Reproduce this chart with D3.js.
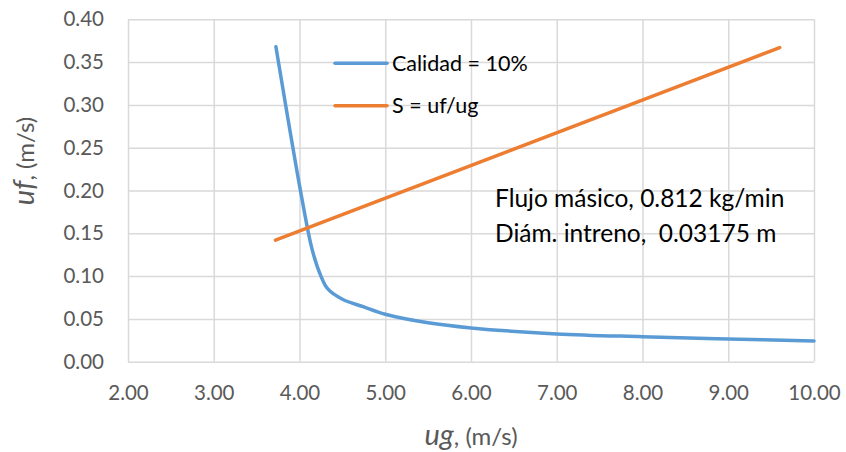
<!DOCTYPE html>
<html>
<head>
<meta charset="utf-8">
<script src="https://cdn.jsdelivr.net/npm/d3@7"></script>
<style>
  html, body { margin: 0; padding: 0; background: #fff; }
  svg { display: block; font-family: Lato, "Open Sans", sans-serif; }
</style>
</head>
<body>
<svg id="chart" width="846" height="452"></svg>
<script>
// ---- data ----
const calidadUg = [3.725, 4.02, 4.15, 4.25, 4.33, 4.50, 4.75, 5.00, 5.50, 6.00, 7.00, 8.00, 9.00, 10.00];
const calidadUf = [0.368, 0.195, 0.130, 0.100, 0.085, 0.0730, 0.0640, 0.0555, 0.0455, 0.0395, 0.0325, 0.0292, 0.0266, 0.0243];
const slipUg = [3.72, 9.60];
const slipUf = [0.142, 0.367];
const xTicks = [2, 3, 4, 5, 6, 7, 8, 9, 10];
const yTicks = [0, 0.05, 0.10, 0.15, 0.20, 0.25, 0.30, 0.35, 0.40];
const seriesNames = ["Calidad = 10%", "S = uf/ug"];
const noteLines = ["Flujo másico, 0.812 kg/min", "Diám. intreno,  0.03175 m"];

// ---- layout ----
const svg = d3.select("#chart");
const x = d3.scaleLinear().domain([2, 10]).range([128, 814]);
const y = d3.scaleLinear().domain([0, 0.40]).range([361.7, 19.3]);

const gridColor = "#d9d9d9";
const textGray = "#595959";

// gridlines
svg.append("g")
  .attr("transform", `translate(${x.range()[0]},0)`)
  .call(d3.axisLeft(y).tickValues(yTicks).tickSize(-(x.range()[1] - x.range()[0])).tickFormat(""))
  .call(g => g.select(".domain").remove())
  .call(g => g.selectAll("line").attr("stroke", gridColor).attr("stroke-width", 1.5));

svg.append("g")
  .attr("transform", `translate(0,${y.range()[0]})`)
  .call(d3.axisBottom(x).tickValues(xTicks).tickSize(-(y.range()[0] - y.range()[1])).tickFormat(""))
  .call(g => g.select(".domain").remove())
  .call(g => g.selectAll("line").attr("stroke", gridColor).attr("stroke-width", 1.5));

// tick labels
const yAx = svg.append("g")
  .attr("transform", `translate(${x.range()[0]},0)`)
  .call(d3.axisLeft(y).tickValues(yTicks).tickSize(0).tickPadding(24).tickFormat(d3.format(".2f")));
yAx.select(".domain").remove();
yAx.selectAll("text").attr("fill", textGray).style("font-size", "20.5px").style("font-family", "Lato, sans-serif");

const xAx = svg.append("g")
  .attr("transform", `translate(0,${y.range()[0]})`)
  .call(d3.axisBottom(x).tickValues(xTicks).tickSize(0).tickPadding(24).tickFormat(d3.format(".2f")));
xAx.select(".domain").remove();
xAx.selectAll("text").attr("fill", textGray).style("font-size", "20.5px").style("font-family", "Lato, sans-serif");

// series
const line = d3.line().x(d => x(d[0])).y(d => y(d[1])).curve(d3.curveCatmullRom.alpha(0.5));
const blueData = calidadUg.map((v, i) => [v, calidadUf[i]]);
const orangeData = slipUg.map((v, i) => [v, slipUf[i]]);

svg.append("path").datum(blueData)
  .attr("d", line).attr("fill", "none")
  .attr("stroke", "#5b9bd5").attr("stroke-width", 3.5)
  .attr("stroke-linecap", "round").attr("stroke-linejoin", "round");

svg.append("path").datum(orangeData)
  .attr("d", d3.line().x(d => x(d[0])).y(d => y(d[1])))
  .attr("fill", "none")
  .attr("stroke", "#ed7d31").attr("stroke-width", 3.5)
  .attr("stroke-linecap", "round");

// legend
const legColors = ["#5b9bd5", "#ed7d31"];
const leg = svg.append("g");
seriesNames.forEach((name, i) => {
  const ly = 63.3 + i * 42.4;
  leg.append("line").attr("x1", 335).attr("x2", 387).attr("y1", ly).attr("y2", ly)
    .attr("stroke", legColors[i]).attr("stroke-width", 3.5).attr("stroke-linecap", "round");
  leg.append("text").attr("x", 392).attr("y", ly + 7.5)
    .style("font-size", "21.5px").attr("fill", "#000").text(name);
});

// annotation
noteLines.forEach((t, i) => {
  svg.append("text").attr("x", 495).attr("y", 206.5 + i * 35)
    .attr("xml:space", "preserve").style("white-space", "pre")
    .style("font-size", "24.5px").attr("fill", "#000").text(t);
});

// axis titles
const xt = svg.append("text").attr("x", 471).attr("y", 444.5).attr("text-anchor", "middle").attr("fill", textGray);
xt.append("tspan").style("font-style", "italic").style("font-size", "29px").text("ug");
xt.append("tspan").style("font-size", "24px").text(", (m/s)");

const yt = svg.append("text").attr("transform", "translate(34,161) rotate(-90)").attr("text-anchor", "middle").attr("fill", textGray);
yt.append("tspan").style("font-style", "italic").style("font-size", "29px").text("uf");
yt.append("tspan").style("font-size", "24px").text(", (m/s)");
</script>
</body>
</html>
